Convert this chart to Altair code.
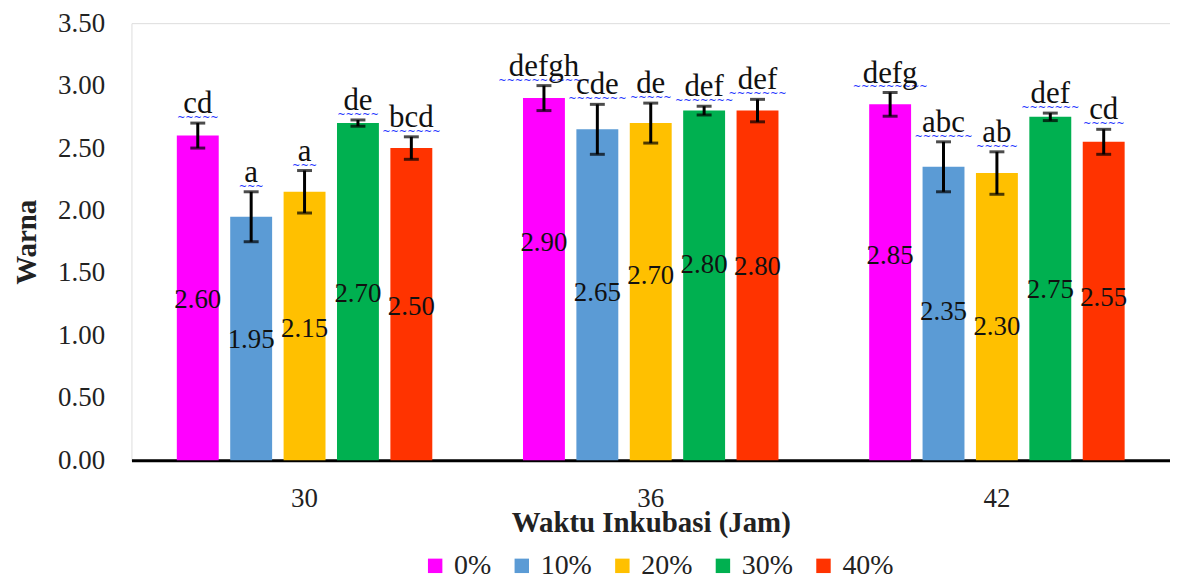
import altair as alt
import pandas as pd

# ---- data ----
times = ["30", "36", "42"]
concs = ["0%", "10%", "20%", "30%", "40%"]
means_30 = [2.60, 1.95, 2.15, 2.70, 2.50]
means_36 = [2.90, 2.65, 2.70, 2.80, 2.80]
means_42 = [2.85, 2.35, 2.30, 2.75, 2.55]
err_30 = [0.10, 0.20, 0.17, 0.025, 0.09]
err_36 = [0.10, 0.20, 0.16, 0.035, 0.09]
err_42 = [0.095, 0.20, 0.17, 0.03, 0.10]
letters_30 = ["cd", "a", "a", "de", "bcd"]
letters_36 = ["defgh", "cde", "de", "def", "def"]
letters_42 = ["defg", "abc", "ab", "def", "cd"]
# height (in Warna units) at which each value label sits in the reference
labelpos_30 = [1.28, 0.96, 1.05, 1.33, 1.23]
labelpos_36 = [1.74, 1.34, 1.475, 1.56, 1.55]
labelpos_42 = [1.635, 1.19, 1.07, 1.36, 1.30]
colors = ["#FF00FF", "#5B9BD5", "#FFC000", "#00B050", "#FF3300"]

rows = []
for t, m, e, l, p in [
    ("30", means_30, err_30, letters_30, labelpos_30),
    ("36", means_36, err_36, letters_36, labelpos_36),
    ("42", means_42, err_42, letters_42, labelpos_42),
]:
    for c, mv, ev, lv, pv in zip(concs, m, e, l, p):
        rows.append({
            "time": t, "conc": c, "mean": mv,
            "lo": mv - ev, "hi": mv + ev,
            "letter": lv, "lpos": pv,
            "label": f"{mv:.2f}",
            "squig": "~" * (len(lv) * 2 + 1),
        })
df = pd.DataFrame(rows)

FONT = "Liberation Serif"

x_enc = alt.X(
    "time:N", sort=times,
    scale=alt.Scale(paddingInner=0.262, paddingOuter=0.131),
    axis=alt.Axis(
        title="Waktu Inkubasi (Jam)", labelAngle=0, ticks=False,
        domainColor="black", domainWidth=3,
        labelFont=FONT, labelFontSize=27, labelColor="#222",
        labelPadding=25,
        titleFont=FONT, titleFontSize=29, titleFontWeight="bold",
        titleColor="#222", titlePadding=-2,
    ),
)
xo = alt.XOffset("conc:N", sort=concs,
                 scale=alt.Scale(paddingInner=0.215, paddingOuter=0))
y_scale = alt.Scale(domain=[0, 3.5])

base = alt.Chart(df).encode(x=x_enc, xOffset=xo)

bars = base.mark_bar().encode(
    y=alt.Y("mean:Q", scale=y_scale, axis=alt.Axis(
        title="Warna", values=[0, 0.5, 1, 1.5, 2, 2.5, 3, 3.5], format=".2f",
        grid=False, domain=False, ticks=False,
        labelFont=FONT, labelFontSize=27, labelColor="#222", labelPadding=27,
        titleFont=FONT, titleFontSize=29, titleFontWeight="bold",
        titleColor="#222", titlePadding=16,
    )),
    color=alt.Color("conc:N", sort=concs,
                    scale=alt.Scale(domain=concs, range=colors),
                    legend=alt.Legend(
                        title=None, orient="none", direction="horizontal",
                        legendX=291, legendY=531,
                        symbolType="square", symbolSize=210,
                        symbolStrokeWidth=0, symbolOpacity=1,
                        labelFont=FONT, labelFontSize=28, labelColor="#222",
                        labelOffset=5, columnPadding=16,
                    )),
)

err_rule = base.mark_rule(color="black", strokeWidth=3).encode(
    y=alt.Y("lo:Q", scale=y_scale), y2="hi:Q")
cap_hi = base.mark_tick(color="black", thickness=3, size=15).encode(
    y=alt.Y("hi:Q", scale=y_scale))
cap_lo = base.mark_tick(color="black", thickness=3, size=15).encode(
    y=alt.Y("lo:Q", scale=y_scale))

vals = base.mark_text(font=FONT, fontSize=27, color="#111",
                      baseline="middle", align="center").encode(
    y=alt.Y("lpos:Q", scale=y_scale), text="label:N")

letters = base.mark_text(font=FONT, fontSize=31, color="#111",
                         baseline="alphabetic", align="center", dy=-10).encode(
    y=alt.Y("hi:Q", scale=y_scale), text="letter:N")

squig = base.mark_text(font="DejaVu Sans", fontSize=10, color="#2233FF",
                       baseline="middle", align="center", dy=-5).encode(
    y=alt.Y("hi:Q", scale=y_scale), text="squig:N")

chart = alt.layer(bars, err_rule, cap_hi, cap_lo, vals, squig, letters).properties(
    width=1043, height=439,
    autosize=alt.AutoSizeParams(type="none"),
    padding={"left": 124, "top": 14, "right": 0, "bottom": 123},
).configure_view(stroke=None).configure(background="white")

chart.save("out.html", embed_options={"renderer": "svg", "actions": False})
